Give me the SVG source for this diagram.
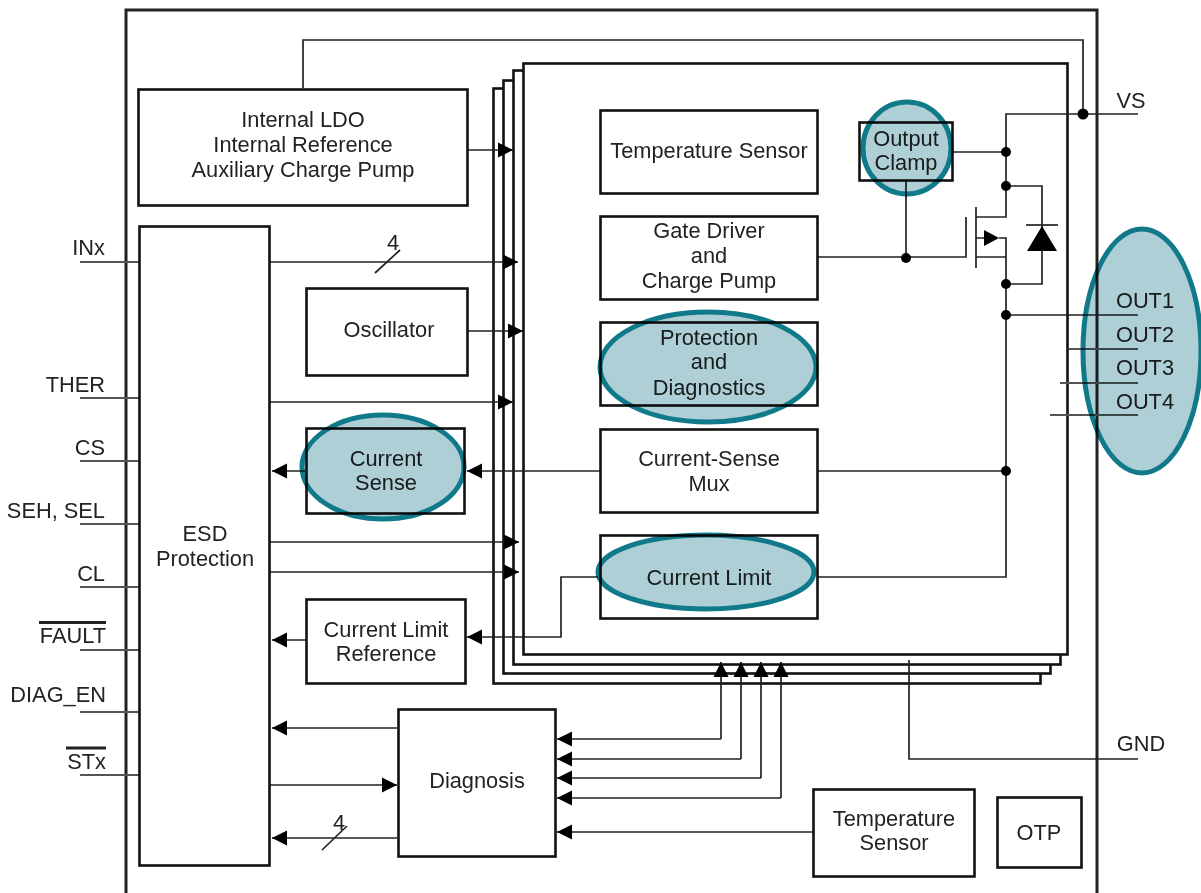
<svg xmlns="http://www.w3.org/2000/svg" width="1201" height="893" viewBox="0 0 1201 893">
<defs>
<marker id="ah" markerUnits="userSpaceOnUse" markerWidth="16" markerHeight="16" refX="15" refY="8" orient="auto"><path d="M0,0.5 L15,8 L0,15.5 Z" fill="#000"/></marker>
</defs>
<style>
text{font-family:"Liberation Sans",Arial,sans-serif;font-size:21.8px;fill:#222;text-anchor:middle}
.p{text-anchor:end}
.b{fill:#fff;stroke:#111;stroke-width:2.6}
.s{fill:none;stroke:#222;stroke-width:1.7}
.w{fill:none;stroke:#555;stroke-width:1.8}
.a{marker-end:url(#ah)}
.d{fill:#000;stroke:none}
.e{fill:#aecfd6;stroke:#117a8a;stroke-width:5;mix-blend-mode:multiply}
.o{fill:none;stroke:#222;stroke-width:3}
</style>
<rect width="1201" height="893" fill="#fff"/>
<path id="frame" d="M126,893 V10 H1097 V893" fill="none" stroke="#222" stroke-width="3"/>
<g id="stack">
<rect class="b" x="493.500" y="88.500" width="547" height="595"/>
<rect class="b" x="503.500" y="80.500" width="547" height="593"/>
<rect class="b" x="513.500" y="70.500" width="547" height="594"/>
<rect class="b" x="523.500" y="63.500" width="544" height="591"/>
</g>
<g id="connectors">
<path class="s" d="M303,88 V40 H1083 V114"/>
<path class="s" d="M1138,114 H1006 V217 H976"/>
<path class="s" d="M953,152 H1006"/>
<path class="s" d="M1006,186 H1042 V284 H1006"/>
<path class="s" d="M906,181 V257"/>
<path class="s" d="M818,257 H966 V217"/>
<path class="s" d="M976,207 V268"/>
<path class="s" d="M976,257 H1006 M976,238 H985 M999,238 H1006 V315"/>
<path class="s" d="M1138,315 H1006 V577 H818"/>
<path class="s" d="M818,471 H1006"/>
<path class="w" d="M1069,349 H1138 M1060,383 H1138 M1050,415 H1138"/>
<path class="w" d="M80,262 H139 M80,398 H139 M80,461 H139 M80,524 H139 M80,587 H139 M80,650 H139 M80,712 H139 M80,775 H139"/>
<path class="s a" d="M468,150 H513"/>
<path class="s a" d="M270,262 H518"/>
<path class="s" d="M375,273 L400,250"/>
<path class="s a" d="M468,331 H523"/>
<path class="s a" d="M270,402 H513"/>
<path class="s a" d="M600,471 H467"/>
<path class="s a" d="M305,471 H272"/>
<path class="s a" d="M270,542 H519"/>
<path class="s a" d="M270,572 H519"/>
<path class="s a" d="M598,577 H561 V637 H467"/>
<path class="s a" d="M306,640 H272"/>
<path class="s a" d="M397,728 H272"/>
<path class="s a" d="M270,785 H397"/>
<path class="s a" d="M397,838 H272"/>
<path class="s" d="M322,850 L347,826"/>
<path class="s a" d="M721,739 V662"/>
<path class="s a" d="M741,759 V662"/>
<path class="s a" d="M761,778 V662"/>
<path class="s a" d="M781,798 V662"/>
<path class="s a" d="M721,739 H557"/>
<path class="s a" d="M741,759 H557"/>
<path class="s a" d="M761,778 H557"/>
<path class="s a" d="M781,798 H557"/>
<path class="s a" d="M813,832 H557"/>
<path class="s" d="M909,660 V759 H1138"/>
<path class="d" d="M984,230 L999,238 L984,246 Z"/>
<path class="d" d="M1042,226 L1057,251 H1027 Z"/>
<path class="s" d="M1026,225 H1058"/>
<circle class="d" cx="1083" cy="114" r="5.500"/>
<circle class="d" cx="1006" cy="152" r="5"/>
<circle class="d" cx="1006" cy="186" r="5"/>
<circle class="d" cx="906" cy="258" r="5"/>
<circle class="d" cx="1006" cy="284" r="5"/>
<circle class="d" cx="1006" cy="315" r="5"/>
<circle class="d" cx="1006" cy="471" r="5"/>
</g>
<g id="ldo"><rect class="b" x="138.500" y="89.500" width="329" height="116"/><text x="303" y="127">Internal LDO</text><text x="303" y="152">Internal Reference</text><text x="303" y="177">Auxiliary Charge Pump</text></g>
<g id="esd"><rect class="b" x="139.500" y="226.500" width="130" height="639"/><text x="205" y="541">ESD</text><text x="205" y="566">Protection</text></g>
<g id="oscillator"><rect class="b" x="306.500" y="288.500" width="161" height="87"/><text x="389" y="337">Oscillator</text></g>
<g id="current-sense"><rect class="b" x="306.500" y="428.500" width="158" height="85"/><text x="386" y="466">Current</text><text x="386" y="490">Sense</text></g>
<g id="cl-ref"><rect class="b" x="306.500" y="599.500" width="159" height="84"/><text x="386" y="637">Current Limit</text><text x="386" y="661">Reference</text></g>
<g id="diagnosis"><rect class="b" x="398.500" y="709.500" width="157" height="147"/><text x="477" y="788">Diagnosis</text></g>
<g id="temp1"><rect class="b" x="600.500" y="110.500" width="217" height="83"/><text x="709" y="158">Temperature Sensor</text></g>
<g id="gate"><rect class="b" x="600.500" y="216.500" width="217" height="83"/><text x="709" y="238">Gate Driver</text><text x="709" y="263">and</text><text x="709" y="288">Charge Pump</text></g>
<g id="protection"><rect class="b" x="600.500" y="322.500" width="217" height="83"/><text x="709" y="345">Protection</text><text x="709" y="369">and</text><text x="709" y="395">Diagnostics</text></g>
<g id="mux"><rect class="b" x="600.500" y="429.500" width="217" height="83"/><text x="709" y="466">Current-Sense</text><text x="709" y="491">Mux</text></g>
<g id="limit"><rect class="b" x="600.500" y="535.500" width="217" height="83"/><text x="709" y="585">Current Limit</text></g>
<g id="clamp"><rect class="b" x="859.500" y="122.500" width="93" height="58"/><text x="906" y="146">Output</text><text x="906" y="170">Clamp</text></g>
<g id="temp2"><rect class="b" x="813.500" y="789.500" width="161" height="87"/><text x="894" y="826">Temperature</text><text x="894" y="850">Sensor</text></g>
<g id="otp"><rect class="b" x="997.500" y="797.500" width="84" height="70"/><text x="1039" y="840">OTP</text></g>
<g id="labels">
<text class="p" x="105" y="255">INx</text>
<text class="p" x="105" y="392">THER</text>
<text class="p" x="105" y="455">CS</text>
<text class="p" x="105" y="518">SEH, SEL</text>
<text class="p" x="105" y="581">CL</text>
<text class="p" x="106" y="643">FAULT</text>
<text class="p" x="106" y="702">DIAG_EN</text>
<text class="p" x="106" y="769">STx</text>
<path class="o" d="M39,622.500 H106 M66,748 H106"/>
<text x="393" y="250">4</text>
<text x="339" y="830">4</text>
<text x="1131" y="108">VS</text>
<text x="1145" y="308">OUT1</text>
<text x="1145" y="342">OUT2</text>
<text x="1145" y="375">OUT3</text>
<text x="1145" y="409">OUT4</text>
<text x="1141" y="751">GND</text>
</g>
<g id="highlights">
<ellipse class="e" cx="907" cy="148" rx="44" ry="46"/>
<ellipse class="e" cx="708" cy="367" rx="108" ry="55"/>
<ellipse class="e" cx="383" cy="467" rx="81" ry="52"/>
<ellipse class="e" cx="706" cy="572" rx="108" ry="37"/>
<ellipse class="e" cx="1142" cy="351" rx="59" ry="122"/>
</g>
</svg>
